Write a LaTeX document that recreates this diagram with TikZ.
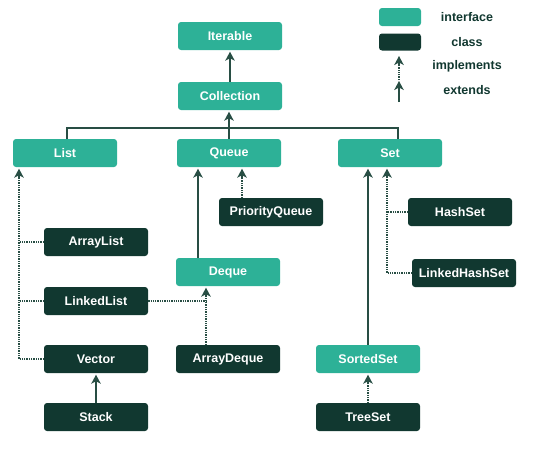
\documentclass[tikz,border=0pt]{standalone}
\usepackage{fontspec}
\setmainfont{Liberation Sans}
\usetikzlibrary{arrows.meta}
\definecolor{teal1}{RGB}{45,177,151}
\definecolor{dark1}{RGB}{17,56,48}
\definecolor{line1}{RGB}{40,78,68}
\begin{document}
\begin{tikzpicture}[x=1pt,y=-1pt,
  box/.style={rounded corners=3pt, minimum width=104pt, minimum height=28pt, inner sep=0pt,
    text=white, font=\fontsize{12.5}{14}\selectfont\bfseries},
  iface/.style={box, fill=teal1},
  cls/.style={box, fill=dark1},
  tip/.style={-{Stealth[length=9pt,width=9.5pt,inset=2.5pt]}},
  ext/.style={draw=line1, line width=1.3pt, tip, shorten >=1.5pt},
  impl/.style={draw=line1, line width=1.3pt, densely dotted},
  lbl/.style={text=dark1, font=\fontsize{12.5}{14}\selectfont\bfseries}]
\useasboundingbox (0,0) rectangle (540,455);
% nodes
\node[iface] (Iterable) at (230,36) {Iterable};
\node[iface] (Collection) at (230,96) {Collection};
\node[iface] (List) at (65,153) {List};
\node[iface] (Queue) at (229,153) {Queue};
\node[iface] (Set) at (390,153) {Set};
\node[cls] (PriorityQueue) at (271,212) {PriorityQueue};
\node[cls] (ArrayList) at (96,242) {ArrayList};
\node[iface] (Deque) at (228,272) {Deque};
\node[cls] (HashSet) at (460,212) {HashSet};
\node[cls] (LinkedHashSet) at (464,273) {LinkedHashSet};
\node[cls] (LinkedList) at (96,301) {LinkedList};
\node[cls] (Vector) at (96,359) {Vector};
\node[cls] (ArrayDeque) at (228,359) {ArrayDeque};
\node[iface] (SortedSet) at (368,359) {SortedSet};
\node[cls] (Stack) at (96,417) {Stack};
\node[cls] (TreeSet) at (368,417) {TreeSet};
% legend
\node[iface, minimum width=42pt, minimum height=18pt] (LgI) at (400,17) {};
\node[cls, minimum width=42pt, minimum height=17pt] (LgC) at (400,42) {};
\node[lbl] (LtI) at (467,17) {interface};
\node[lbl] (LtC) at (467,42) {class};
\node[lbl] (LtImp) at (467,66) {implements};
\node[lbl] (LtExt) at (467,90) {extends};
\coordinate (LaA) at (399,80);
\coordinate (LaB) at (399,56);
\coordinate (LbA) at (399,102);
\coordinate (LbB) at (399,81);
\draw[impl] (LaA) -- ([yshift=-7pt]LaB);
\draw[ext, shorten >=0pt] ([yshift=-10pt]LaB) -- (LaB);
\draw[ext, shorten >=0pt] (LbA) -- (LbB);
% hierarchy
\coordinate (bus) at (229,128);
\draw[ext] (Collection.north) -- (Iterable.south);
\draw[draw=line1, line width=1.3pt] ([xshift=2pt]List.north) |- (bus) -| ([xshift=8pt]Set.north);
\draw[draw=line1, line width=1.3pt] (Queue.north) -- (Queue.north |- bus);
\draw[ext] (bus) -- ([xshift=-1pt]Collection.south);
% List implementations
\coordinate (lx) at ([xshift=-46pt]List.south);
\draw[impl] (Vector.west) -| ([yshift=-8pt]lx);
\draw[impl] (ArrayList.west) -- (ArrayList.west -| lx);
\draw[impl] (LinkedList.west) -- (LinkedList.west -| lx);
\draw[ext] ([yshift=-11pt]lx) -- (lx);
\draw[ext] (Stack.north) -- (Vector.south);
% Queue
\coordinate (dq) at ([xshift=-30pt]Deque.north);
\draw[ext] (dq) -- (dq |- Queue.south);
\coordinate (pq) at ([xshift=-29pt]PriorityQueue.north);
\draw[impl] (pq) -- ([yshift=-8pt]pq |- Queue.south);
\draw[ext] ([yshift=-11pt]pq |- Queue.south) -- (pq |- Queue.south);
\coordinate (ad) at ([xshift=-22pt]ArrayDeque.north);
\draw[impl] (ad) -- ([yshift=-8pt]ad |- Deque.south);
\draw[impl] (LinkedList.east) -- (LinkedList.east -| ad);
\draw[ext] ([yshift=-11pt]ad |- Deque.south) -- (ad |- Deque.south);
% Set
\draw[ext] (SortedSet.north) -- (SortedSet.north |- Set.south);
\coordinate (sx) at ([xshift=-3pt]Set.south);
\draw[impl] (LinkedHashSet.west) -| ([yshift=-8pt]sx);
\draw[impl] (HashSet.west) -- (HashSet.west -| sx);
\draw[ext] ([yshift=-11pt]sx) -- (sx);
\draw[impl] (TreeSet.north) -- ([yshift=-8pt]SortedSet.south);
\draw[ext] ([yshift=-11pt]SortedSet.south) -- (SortedSet.south);
\end{tikzpicture}
\end{document}
